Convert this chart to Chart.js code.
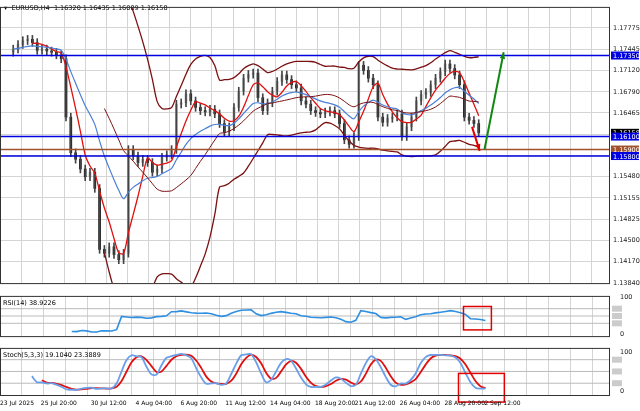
<!DOCTYPE html>
<html><head><meta charset="utf-8">
<script src="https://cdn.jsdelivr.net/npm/chart.js@4"></script>
<style>body{margin:0;background:#fff;width:640px;height:411px;overflow:hidden;font-family:Tahoma,"DejaVu Sans",sans-serif}
canvas{position:absolute;left:0}</style></head><body>
<canvas id="c1" style="top:0px" width="640" height="290"></canvas>
<canvas id="c2" style="top:290px" width="640" height="52"></canvas>
<canvas id="c3" style="top:342px" width="640" height="69"></canvas>
<script>
const closes=[1.1745,1.1752,1.1758,1.1760,1.1755,1.1743,1.1745,1.1742,1.1740,1.1736,1.1730,1.1640,1.1585,1.1575,1.1560,1.1548,1.1555,1.1530,1.1436,1.1430,1.1440,1.1428,1.1420,1.1430,1.1590,1.1580,1.1570,1.1575,1.1570,1.1555,1.1560,1.1578,1.1582,1.1590,1.1660,1.1662,1.1676,1.1665,1.1655,1.1650,1.1648,1.1652,1.1645,1.1630,1.1617,1.1625,1.1655,1.1680,1.1700,1.1706,1.1708,1.1670,1.1650,1.1662,1.1680,1.1695,1.1705,1.1698,1.1690,1.1685,1.1665,1.1660,1.1650,1.1647,1.1645,1.1648,1.1650,1.1645,1.1630,1.1605,1.1598,1.1610,1.1720,1.1712,1.1700,1.1690,1.1640,1.1632,1.1638,1.1640,1.1645,1.1610,1.1625,1.1640,1.1665,1.1675,1.1678,1.1690,1.1700,1.1710,1.1722,1.1715,1.1705,1.1690,1.1640,1.1635,1.1630,1.16158];
const priceTicks=[1.13840,1.14170,1.14500,1.14825,1.15155,1.15480,1.15805,1.16135,1.16465,1.16790,1.17120,1.17445,1.17775];
const levels=[{v:1.17350,c:'#0000e0',t:'1.17350'},{v:1.16100,c:'#0000e0',t:'1.16100'},{v:1.15900,c:'#a0522d',t:'1.15900'},{v:1.15800,c:'#0000e0',t:'1.15800'}];
const dateIdx=[0,9,19,28,37,46,55,64,72,81,90,98];
const dateLabels=['23 Jul 2025','25 Jul 20:00','30 Jul 12:00','4 Aug 04:00','6 Aug 20:00','11 Aug 12:00','14 Aug 04:00','18 Aug 20:00','21 Aug 12:00','26 Aug 04:00','28 Aug 20:00','2 Sep 12:00'];

const N=closes.length, XMAX=122;
const opens=closes.map((c,i)=>i?closes[i-1]:1.1740);
const sma=(a,p)=>a.map((_,i)=>i<p-1?null:a.slice(i-p+1,i+1).reduce((s,x)=>s+x,0)/p);
const ema=(a,p)=>{let k=2/(p+1),e=a[0];return a.map(x=>e=x*k+e*(1-k));};
const mid=sma(closes,20);
const sd=closes.map((_,i)=>i<19?null:Math.sqrt(closes.slice(i-19,i+1).reduce((s,x)=>s+(x-mid[i])**2,0)/20));
const up=mid.map((m,i)=>m==null?null:m+2*sd[i]), lo=mid.map((m,i)=>m==null?null:m-2*sd[i]);
const fast=sma(closes,5), slow=ema(closes,14);
const rsi=[];{let g=0,l=0;for(let i=0;i<N;i++){if(i==0){rsi.push(null);continue;}const d=closes[i]-closes[i-1];const G=Math.max(d,0),L=Math.max(-d,0);if(i<=14){g+=G/14;l+=L/14;}else{g=(g*13+G)/14;l=(l*13+L)/14;}rsi.push(i<14?null:100-100/(1+g/(l||1e-9)));}}
const hi=closes.map((c,i)=>Math.max(c,opens[i])+0.0006), lw=closes.map((c,i)=>Math.min(c,opens[i])-0.0006);
const rawK=closes.map((c,i)=>{if(i<4)return null;const H=Math.max(...hi.slice(i-4,i+1)),L=Math.min(...lw.slice(i-4,i+1));return 100*(c-L)/(H-L);});
const sm=(a,p)=>a.map((_,i)=>{const s=a.slice(Math.max(0,i-p+1),i+1).filter(v=>v!=null);return s.length<p?null:s.reduce((x,y)=>x+y,0)/p;});
const K=sm(rawK,3), D=sm(K,3);
const pts=a=>a.map((v,i)=>({x:i,y:v}));

const grid={color:'#d4d4d4',borderDash:[3,3],drawTicks:false};
const xAxis={type:'linear',min:-0.4,max:XMAX,display:true,grid:grid,border:{display:false},ticks:{display:false},afterBuildTicks:a=>{a.ticks=[];for(let v=4;v<XMAX;v+=4.4)a.ticks.push({value:v});}};
const frame={id:'frame',afterDraw(ch){const c=ch.ctx,a=ch.chartArea;c.save();c.strokeStyle='#333';c.lineWidth=1;c.strokeRect(a.left+0.5,a.top+0.5,a.right-a.left-1,a.bottom-a.top);c.restore();}};
const fitY=a=>{a.width=30;};
Chart.defaults.font.family='Tahoma, "DejaVu Sans", sans-serif';Chart.defaults.font.size=6.5;Chart.defaults.color='#222';
Chart.defaults.animation=false;Chart.defaults.plugins.legend.display=false;Chart.defaults.plugins.tooltip.enabled=false;

function arrow(c,x1,y1,x2,y2,col){c.strokeStyle=col;c.fillStyle=col;c.lineWidth=2;c.beginPath();c.moveTo(x1,y1);c.lineTo(x2,y2);c.stroke();const an=Math.atan2(y2-y1,x2-x1),s=7;c.beginPath();c.moveTo(x2,y2);c.lineTo(x2-s*Math.cos(an-0.4),y2-s*Math.sin(an-0.4));c.lineTo(x2-s*Math.cos(an+0.4),y2-s*Math.sin(an+0.4));c.fill();}

const mainPlug={id:'main',afterDatasetsDraw(ch){const c=ch.ctx,x=ch.scales.x,y=ch.scales.y,a=ch.chartArea;c.save();
 levels.forEach(l=>{c.strokeStyle=l.c;c.lineWidth=1.5;c.beginPath();c.moveTo(a.left,y.getPixelForValue(l.v));c.lineTo(a.right,y.getPixelForValue(l.v));c.stroke();});
 arrow(c,x.getPixelForValue(95.6),y.getPixelForValue(1.1625),x.getPixelForValue(97.2),y.getPixelForValue(1.1588),'#e00000');
 arrow(c,x.getPixelForValue(98.2),y.getPixelForValue(1.1590),x.getPixelForValue(102.2),y.getPixelForValue(1.1740),'#118811');
 c.fillStyle='#000';c.font='6.5px Tahoma, "DejaVu Sans"';c.fillText('▾  EURUSD,H4  1.16320 1.16435 1.16089 1.16158',4,10);
 const box=(v,bg,t)=>{const py=y.getPixelForValue(v);c.fillStyle=bg;c.fillRect(a.right+1,py-4,28,8);c.fillStyle='#fff';c.fillText(t,a.right+3,py+2.5);};
 box(1.16158,'#000','1.16158');levels.forEach(l=>box(l.v,l.c,l.t));
 c.restore();}};

new Chart(document.getElementById('c1'),{type:'bar',data:{datasets:[
 {type:'line',data:pts(up),borderColor:'#7a1010',borderWidth:1.3,pointRadius:0,tension:0.3},
 {type:'line',data:pts(lo),borderColor:'#7a1010',borderWidth:1.3,pointRadius:0,tension:0.3},
 {type:'line',data:pts(mid),borderColor:'#7a1010',borderWidth:1,pointRadius:0,tension:0.3},
 {type:'line',data:pts(slow),borderColor:'#4a7fd6',borderWidth:1.2,pointRadius:0,tension:0.3},
 {type:'line',data:pts(fast),borderColor:'#e01010',borderWidth:1.3,pointRadius:0,tension:0.3},
 {data:closes.map((c,i)=>({x:i,y:[lw[i],hi[i]]})),backgroundColor:'#444',barThickness:1,grouped:false},
 {data:closes.map((c,i)=>({x:i,y:[opens[i],c]})),backgroundColor:closes.map((c,i)=>c>=opens[i]?'#aaa':'#111'),barThickness:2,grouped:false}
]},options:{responsive:false,layout:{padding:{top:0,bottom:2}},
 scales:{x:xAxis,y:{position:'right',min:1.1384,max:1.1810,afterFit:fitY,grid:grid,border:{display:false},
  afterBuildTicks:a=>{a.ticks=priceTicks.map(v=>({value:v}));},ticks:{padding:3,callback:v=>(v==1.15805||v==1.16135)?'':v.toFixed(5)}}}},
 plugins:[mainPlug,frame]});

function subPlug(lines,box){return {id:'sub',beforeDatasetsDraw(ch){const c=ch.ctx,y=ch.scales.y,a=ch.chartArea;c.save();c.strokeStyle='#bbb';c.lineWidth=1;lines.forEach(v=>{const py=y.getPixelForValue(v);c.beginPath();c.moveTo(a.left,py);c.lineTo(a.right,py);c.stroke();c.fillStyle='#ccc';c.fillRect(a.right+2,py-3,10,6);});c.restore();},
 afterDraw(ch){const c=ch.ctx,x=ch.scales.x,y=ch.scales.y;c.save();c.strokeStyle='#e00000';c.lineWidth=1.5;const x1=x.getPixelForValue(box[0]),x2=x.getPixelForValue(box[1]),y1=y.getPixelForValue(box[2]),y2=y.getPixelForValue(box[3]);c.strokeRect(x1,y1,x2-x1,y2-y1);c.restore();}};}
const subY=(ex)=>Object.assign({position:'right',min:0,max:100,afterFit:fitY,grid:{display:false},border:{display:false},afterBuildTicks:a=>{a.ticks=[{value:0},{value:100}];},ticks:{padding:2}},ex||{});
const titlePlug=t=>({id:'t',afterDraw(ch){const c=ch.ctx;c.save();c.fillStyle='#000';c.font='6.5px Tahoma, "DejaVu Sans"';c.fillText(t,3,ch.chartArea.top+9);c.restore();}});

new Chart(document.getElementById('c2'),{type:'line',data:{datasets:[{data:pts(rsi),borderColor:'#2f8fe0',borderWidth:1.6,pointRadius:0}]},
 options:{responsive:false,layout:{padding:{top:4,bottom:2}},scales:{x:xAxis,y:subY({min:-5,max:105,afterBuildTicks:a=>{a.ticks=[{value:0},{value:100}];}})}},plugins:[subPlug([30,50,70],[92.6,98.2,76,12]),frame,titlePlug('RSI(14) 38.9226')]});

const datePlug={id:'d',afterDraw(ch){const c=ch.ctx,x=ch.scales.x,a=ch.chartArea;c.save();c.fillStyle='#000';c.font='6px Tahoma, "DejaVu Sans"';dateIdx.forEach((v,i)=>{const px=x.getPixelForValue(v);c.fillText(dateLabels[i],i?px-6:0,a.bottom+10);});c.restore();}};
new Chart(document.getElementById('c3'),{type:'line',data:{datasets:[
 {data:pts(K),borderColor:'#6a9fe8',borderWidth:1.8,pointRadius:0,tension:0.3},
 {data:pts(D),borderColor:'#e01010',borderWidth:1.8,pointRadius:0,tension:0.3}]},
 options:{responsive:false,layout:{padding:{top:2,bottom:16}},scales:{x:xAxis,y:subY({min:-10,max:110,afterBuildTicks:a=>{a.ticks=[{value:0},{value:100}];}})}},
 plugins:[subPlug([20,50,80],[91.6,100.8,45,-28]),frame,titlePlug('Stoch(5,3,3) 19.1040 23.3889'),datePlug]});
</script></body></html>
